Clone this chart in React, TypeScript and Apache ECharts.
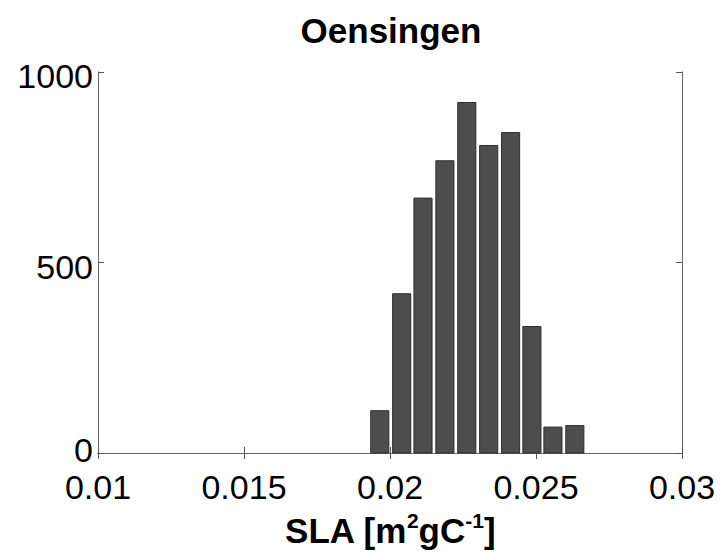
import React, { useEffect, useRef } from "react";
import * as echarts from "echarts";

const binCenters = [0.01965, 0.0204, 0.02113, 0.02188, 0.02263, 0.02338, 0.02413, 0.02486, 0.02558, 0.02633];
const counts = [111, 418, 669, 767, 920, 807, 841, 332, 68, 72];
const xTicks = [0.01, 0.015, 0.02, 0.025, 0.03];
const yTicks = [0, 500, 1000];
const BIN_WIDTH = 0.00062;

export default function App() {
  const ref = useRef<HTMLDivElement>(null);
  useEffect(() => {
    if (!ref.current) return;
    const chart = echarts.init(ref.current, null, { renderer: "svg" });
    const font = "'Liberation Sans', Arial, Helvetica, sans-serif";
    const data = binCenters.map((c, i) => [c, counts[i]]);
    const axisLine = { lineStyle: { color: "#666666", width: 1 } };
    const tick = { inside: true, length: 6, lineStyle: { color: "#555555", width: 1 } };
    chart.setOption({
      animation: false,
      backgroundColor: "#ffffff",
      title: {
        text: "Oensingen",
        left: 386,
        textAlign: "center",
        top: 6,
        textStyle: { fontFamily: font, fontSize: 35, fontWeight: "bold", color: "#000", lineHeight: 38 },
      },
      grid: { left: 98, right: 46, top: 72, bottom: 103, containLabel: false, outerBoundsMode: "none" },
      xAxis: [
        {
          type: "value",
          position: "bottom",
          min: xTicks[0],
          max: xTicks[xTicks.length - 1],
          interval: 0.005,
          axisLine: { show: true, ...axisLine },
          axisTick: tick,
          splitLine: { show: false },
          axisLabel: {
            margin: 20,
            fontFamily: font,
            fontSize: 34,
            lineHeight: 28,
            color: "#000",
            formatter: (v: number) => String(parseFloat(v.toFixed(4))),
          },
          name: "{a|SLA [m}{s|2}{a|gC}{s|-1}{a|]}",
          nameLocation: "middle",
          nameGap: 57,
          nameTextStyle: {
            rich: {
              a: { fontFamily: font, fontSize: 35, fontWeight: "bold", color: "#000", lineHeight: 38, verticalAlign: "bottom" },
              s: { fontFamily: font, fontSize: 21, fontWeight: "bold", color: "#000", lineHeight: 38, verticalAlign: "top", padding: [0, 0, 15, 0] },
            },
          },
        },
        {
          type: "value",
          position: "top",
          min: xTicks[0],
          max: xTicks[xTicks.length - 1],
          interval: 0.005,
          axisLine: { show: true, ...axisLine },
          axisTick: tick,
          axisLabel: { show: false },
          splitLine: { show: false },
        },
      ],
      yAxis: [
        {
          type: "value",
          position: "left",
          min: yTicks[0],
          max: yTicks[yTicks.length - 1],
          interval: 500,
          axisLine: { show: true, ...axisLine },
          axisTick: tick,
          splitLine: { show: false },
          axisLabel: {
            margin: 5,
            fontFamily: font,
            fontSize: 34,
            color: "#000",
            formatter: (v: number) => (v === 0 ? "{z|0}" : "{n|" + v + "}"),
            rich: {
              z: { fontFamily: font, fontSize: 34, color: "#000", padding: [0, 0, 6, 0] },
              n: { fontFamily: font, fontSize: 34, color: "#000", padding: [8, 0, 0, 0] },
            },
          },
        },
        {
          type: "value",
          position: "right",
          min: yTicks[0],
          max: yTicks[yTicks.length - 1],
          interval: 500,
          axisLine: { show: true, ...axisLine },
          axisTick: tick,
          axisLabel: { show: false },
          splitLine: { show: false },
        },
      ],
      series: [
        {
          type: "custom",
          xAxisIndex: 0,
          yAxisIndex: 0,
          data,
          renderItem: (params: any, api: any) => {
            const x = api.value(0);
            const y = api.value(1);
            const p0 = api.coord([x - BIN_WIDTH / 2, y]);
            const p1 = api.coord([x + BIN_WIDTH / 2, 0]);
            return {
              type: "rect",
              shape: { x: p0[0], y: p0[1], width: p1[0] - p0[0], height: p1[1] - p0[1] },
              style: { fill: "#4d4d4d", stroke: "#2e2e2e", lineWidth: 1 },
            };
          },
        },
      ],
    });
    return () => chart.dispose();
  }, []);
  return <div ref={ref} style={{ width: 728, height: 556, position: "absolute", left: 0, top: 0 }} />;
}
